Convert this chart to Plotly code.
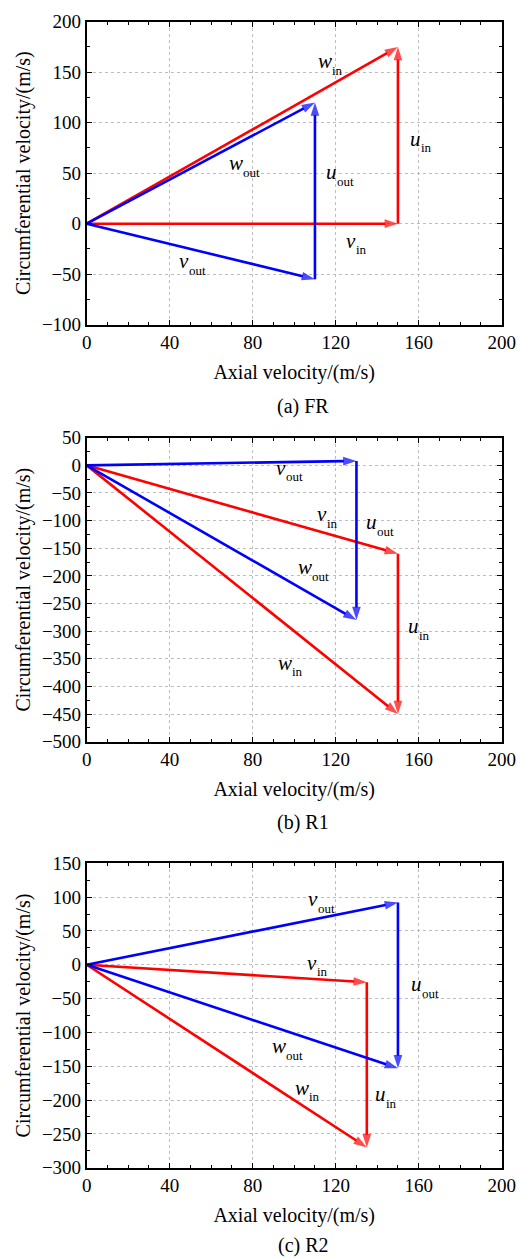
import plotly.graph_objects as go

# Velocity triangles for the three blade rows (m/s)
panel_names = ["(a) FR", "(b) R1", "(c) R2"]

# Inlet triangle: axial velocity, circumferential components of v and w
inlet_axial = [150, 150, 135]
inlet_v_circ = [0, -160, -26]
inlet_w_circ = [175, -450, -270]

# Outlet triangle
outlet_axial = [110, 130, 150]
outlet_v_circ = [-55, 8, 92]
outlet_w_circ = [120, -280, -153]

# Axis ranges
x_range = [0, 200]
y_ranges = [[-100, 200], [-500, 50], [-300, 150]]

# Vector label placement (data coordinates)
label_pos = [
    {"w_in": (118, 157), "u_in": (161, 80), "w_out": (75.5, 56),
     "u_out": (120.5, 47), "v_in": (129.6, -21), "v_out": (49.3, -41)},
    {"v_out": (96, -12), "v_in": (115.7, -96), "u_out": (139.8, -110),
     "w_out": (108.4, -192), "u_in": (160, -298), "w_in": (99, -364)},
    {"v_out": (111.6, 91), "v_in": (110.8, -3), "u_out": (161.4, -35),
     "w_out": (95.9, -126), "w_in": (107, -188), "u_in": (144, -197)},
]

RED = "rgb(255,0,0)"
BLUE = "rgb(0,0,255)"
FONT = "Liberation Serif, Times New Roman, serif"
GRID = "rgb(190,190,190)"

W, H = 520, 1259
x_dom = [86.7 / W, 501.7 / W]
# plot area top / bottom in pixels for each panel
panel_px = [(21.7, 324.7), (437.7, 741.7), (863.3, 1167.7)]
caption_px = [407, 822, 1245]

fig = go.Figure()


def add_vector(i, x0, y0, x1, y1, color):
    fig.add_trace(go.Scatter(
        x=[x0, x1], y=[y0, y1],
        mode="lines+markers",
        line=dict(color=color, width=2.6),
        marker=dict(symbol="arrow", size=[0, 14], angleref="previous",
                    color=color, line=dict(width=0)),
        xaxis=f"x{i + 1}", yaxis=f"y{i + 1}",
        showlegend=False, hoverinfo="skip",
    ))


annotations = []
for i in range(3):
    ax_in, vin, win = inlet_axial[i], inlet_v_circ[i], inlet_w_circ[i]
    ax_out, vout, wout = outlet_axial[i], outlet_v_circ[i], outlet_w_circ[i]

    # inlet: v, u (from v tip to w tip), w
    add_vector(i, 0, 0, ax_in, vin, RED)
    add_vector(i, ax_in, vin, ax_in, win, RED)
    add_vector(i, 0, 0, ax_in, win, RED)
    # outlet
    add_vector(i, 0, 0, ax_out, vout, BLUE)
    add_vector(i, ax_out, vout, ax_out, wout, BLUE)
    add_vector(i, 0, 0, ax_out, wout, BLUE)

    # italic symbol plus a smaller, lowered subscript
    for key, (lx, ly) in label_pos[i].items():
        sym, sub = key.split("_")
        xr, yr = f"x{i + 1}", f"y{i + 1}"
        annotations.append(dict(
            x=lx, y=ly, xref=xr, yref=yr, text=f"<i>{sym}</i>", showarrow=False,
            font=dict(family=FONT, size=21, color="black"),
            xanchor="right", yanchor="middle", xshift=2, yshift=4,
        ))
        annotations.append(dict(
            x=lx, y=ly, xref=xr, yref=yr, text=sub, showarrow=False,
            font=dict(family=FONT, size=13, color="black"),
            xanchor="left", yanchor="middle", xshift=-2, yshift=-5,
        ))

    top, bot = panel_px[i]
    xa = dict(
        domain=x_dom, range=x_range, anchor=f"y{i + 1}", automargin=False,
        dtick=40, ticks="inside", ticklen=5, tickcolor="black",
        showgrid=True, gridcolor=GRID, griddash="dot", gridwidth=1,
        zeroline=False, showline=True, linecolor="black", linewidth=1.6,
        mirror="ticks",
        minor=dict(dtick=10, ticks="inside", ticklen=3, tickcolor="black", showgrid=False),
        tickfont=dict(family=FONT, size=19, color="black"),
        title=dict(text="Axial velocity/(m/s)", standoff=13,
                   font=dict(family=FONT, size=20, color="black")),
    )
    ya = dict(
        domain=[1 - bot / H, 1 - top / H], range=y_ranges[i], anchor=f"x{i + 1}",
        automargin=False,
        dtick=50, ticks="inside", ticklen=5, tickcolor="black",
        showgrid=True, gridcolor=GRID, griddash="dot", gridwidth=1,
        zeroline=False, showline=True, linecolor="black", linewidth=1.6,
        mirror="ticks",
        minor=dict(dtick=25, ticks="inside", ticklen=3, tickcolor="black", showgrid=False),
        tickfont=dict(family=FONT, size=19, color="black"),
        title=dict(text="Circumferential velocity/(m/s)", standoff=6,
                   font=dict(family=FONT, size=20, color="black")),
    )
    # secondary x axis carrying the 20 m/s grid lines
    xg = dict(
        domain=x_dom, range=x_range, anchor=f"y{i + 1}", overlaying=f"x{i + 1}",
        automargin=False,
        dtick=20, ticks="", showticklabels=False, showline=False,
        showgrid=True, gridcolor=GRID, griddash="dot", gridwidth=1,
        zeroline=False, layer="below traces",
    )
    suffix = "" if i == 0 else str(i + 1)
    fig.update_layout(**{f"xaxis{suffix}": xa, f"yaxis{suffix}": ya,
                         f"xaxis{i + 4}": xg})

    annotations.append(dict(
        x=303 / W, y=1 - caption_px[i] / H, xref="paper", yref="paper",
        text=panel_names[i], showarrow=False, borderpad=0,
        font=dict(family=FONT, size=20, color="black"),
        xanchor="center", yanchor="middle",
    ))

fig.update_layout(
    width=W, height=H,
    margin=dict(l=0, r=0, t=0, b=0, autoexpand=False),
    paper_bgcolor="white", plot_bgcolor="white",
    annotations=annotations,
    showlegend=False,
)

fig.write_html("out.html")
